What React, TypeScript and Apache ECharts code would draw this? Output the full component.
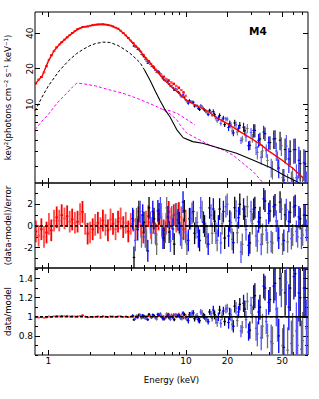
import React, { useEffect, useRef } from "react";
import * as echarts from "echarts";

const FONT = "DejaVu Sans, Liberation Sans, sans-serif";

// ---- axis ranges and ticks ----
const X_MIN = 0.8;
const X_MAX = 77;
const TOP_MIN = 2.15;
const TOP_MAX = 60.5;
const RES_MIN = -3.87;
const RES_MAX = 3.96;
const RAT_MIN = 0.6;
const RAT_MAX = 1.51;

const xMajorTicks = [1, 10, 20, 50];
const xMinorTicks = [0.9, 2, 3, 4, 5, 6, 7, 8, 9, 30, 40, 60, 70];
const xLabels = [1, 10, 20, 50];
const topMajorTicks = [10, 20, 40];
const topMinorTicks = [3, 4, 5, 6, 7, 8, 9];
const topLabels = [10, 20, 40];
const resMajorTicks = [-2, 0, 2];
const resMinorTicks = [-3, -1, 1, 3];
const resLabels = [-2, 0, 2];
const ratMajorTicks = [0.8, 1, 1.2, 1.4];
const ratMinorTicks = [0.6, 0.7, 0.9, 1.1, 1.3, 1.5];
const ratLabels = [0.8, 1, 1.2, 1.4];

const residRef = 0;
const ratioRef = 1;
const refSolidFrom = 10;
const blackSolidFrom = 5;

// ---- red spectrum (0.8-10 keV) ----
const redE = [0.81, 0.85, 0.89, 0.93, 0.97, 1.01, 1.05, 1.1, 1.15, 1.2,
  1.25, 1.31, 1.37, 1.43, 1.49, 1.56, 1.63, 1.7, 1.77, 1.85,
  1.93, 2.01, 2.1, 2.19, 2.29, 2.39, 2.49, 2.6, 2.71, 2.83,
  2.95, 3.08, 3.21, 3.35, 3.5, 3.65, 3.81, 3.97, 4.14, 4.32,
  4.51, 4.71, 4.91, 5.12, 5.34, 5.57, 5.81, 6.06, 6.32, 6.6,
  6.88, 7.18, 7.49, 7.81, 8.15, 8.5, 8.87, 9.25, 9.6, 9.95];
const redFlux = [15.0, 16.2, 17.0, 18.6, 21.0, 23.8, 26.0, 28.2, 30.4, 32.0,
  33.6, 35.3, 36.9, 38.6, 40.2, 41.8, 43.3, 44.3, 45.1, 45.3,
  45.6, 46.3, 46.8, 47.2, 47.5, 47.7, 47.6, 47.4, 47.0, 46.5,
  45.7, 44.6, 43.7, 42.0, 40.2, 38.3, 36.5, 34.6, 32.9, 31.2,
  29.6, 27.8, 26.1, 24.6, 23.3, 22.0, 20.8, 19.7, 18.8, 17.9,
  17.1, 16.4, 15.9, 15.3, 14.9, 14.3, 13.8, 13.2, 12.6, 11.8];
const redRelErr = [0.01, 0.01, 0.01, 0.01, 0.01, 0.01, 0.01, 0.01, 0.01, 0.01,
  0.01, 0.01, 0.01, 0.01, 0.01, 0.01, 0.008, 0.008, 0.008, 0.008,
  0.008, 0.008, 0.008, 0.008, 0.008, 0.008, 0.008, 0.008, 0.008, 0.008,
  0.008, 0.008, 0.008, 0.008, 0.008, 0.008, 0.008, 0.008, 0.012, 0.012,
  0.012, 0.012, 0.012, 0.012, 0.012, 0.012, 0.012, 0.012, 0.012, 0.012,
  0.022, 0.022, 0.022, 0.022, 0.022, 0.022, 0.022, 0.022, 0.022, 0.022];
const redResid = [-0.5, -0.9, -0.3, -1.0, -0.6, 0.2, -0.4, 0.5, 0.8, 0.5,
  1.0, 0.7, 0.9, 0.4, 0.6, 0.3, 0.4, 1.1, 1.3, 0.2,
  -0.7, -0.6, -0.3, 0.1, 0.3, -0.2, 0.5, 0.1, -0.4, 0.6,
  0.2, -0.3, 0.4, 0.7, -0.1, 0.3, -0.5, 0.2, 0.5, -0.3,
  0.8, 0.1, -0.6, 0.4, 0.9, -0.2, 0.3, -0.8, 0.6, 1.1,
  -0.4, 0.2, 1.3, 0.7, 1.0, 0.4, 1.2, 0.8, -0.3, 0.5];
const redRatio = [0.995, 0.992, 0.997, 0.99, 0.994, 1.002, 0.997, 1.004, 1.006, 1.004,
  1.008, 1.005, 1.007, 1.003, 1.004, 1.002, 1.003, 1.01, 1.015, 1.002,
  0.994, 0.995, 0.997, 1.001, 1.003, 0.998, 1.004, 1.001, 0.996, 1.005,
  1.002, 0.997, 1.003, 1.006, 0.999, 1.003, 0.995, 1.002, 1.005, 0.997,
  1.008, 1.001, 0.993, 1.004, 1.01, 0.997, 1.004, 0.99, 1.008, 1.015,
  0.994, 1.003, 1.02, 1.01, 1.016, 1.006, 1.02, 1.013, 0.995, 1.008];

// ---- blue spectrum (4-75 keV) ----
const blueE = [4.1, 4.28, 4.46, 4.65, 4.85, 5.06, 5.28, 5.51, 5.74, 5.99,
  6.25, 6.52, 6.8, 7.09, 7.39, 7.71, 8.04, 8.39, 8.75, 9.13, 9.52, 9.93,
  10.4, 10.8, 11.3, 11.8, 12.3, 12.8, 13.4, 13.9, 14.5, 15.2,
  15.8, 16.5, 17.2, 17.9, 18.7, 19.5,
  20.4, 21.2, 22.1, 23.1, 24.1, 25.1,
  26.2, 27.3, 28.5, 29.7,
  31.0, 32.3, 33.7, 35.2, 36.7, 38.3, 39.9,
  41.6, 43.4, 45.3, 47.2, 49.3,
  51.4, 53.6, 55.9, 58.3, 60.8,
  63.4, 66.1, 69.0, 71.9, 75.0];
const blueFlux = [33.3, 30.6, 29.2, 28.2, 26.4, 24.0, 22.3, 21.8, 21.0, 19.4,
  19.1, 18.2, 16.5, 15.8, 15.5, 14.2, 13.8, 13.6, 12.8, 11.8, 12.0, 10.9,
  10.2, 10.5, 10.4, 9.7, 9.22, 9.77, 9.14, 8.67, 8.17, 8.55,
  8.67, 7.61, 7.6, 6.88, 7.63, 7.51,
  6.35, 6.68, 5.72, 6.7, 6.25, 4.93,
  6.38, 5.29, 4.45, 5.77,
  6.0, 4.27, 4.94, 3.55, 5.81, 4.04, 4.72,
  2.92, 5.08, 4.02, 2.88, 4.45,
  2.28, 4.42, 3.44, 2.17, 4.12,
  2.38, 3.35, 1.69, 3.19, 2.07];
const blueRelErr = [0.015, 0.015, 0.015, 0.015, 0.015, 0.015, 0.015, 0.015, 0.015, 0.015,
  0.018, 0.018, 0.018, 0.018, 0.018, 0.018, 0.018, 0.018, 0.018, 0.018, 0.018, 0.018,
  0.03, 0.03, 0.03, 0.03, 0.03, 0.03, 0.03, 0.03, 0.03, 0.03,
  0.045, 0.045, 0.045, 0.045, 0.045, 0.045,
  0.065, 0.065, 0.065, 0.065, 0.065, 0.065,
  0.09, 0.09, 0.09, 0.09,
  0.13, 0.13, 0.13, 0.13, 0.13, 0.13, 0.13,
  0.18, 0.18, 0.18, 0.18, 0.18,
  0.24, 0.24, 0.24, 0.24, 0.24,
  0.3, 0.3, 0.3, 0.3, 0.3];
const blueResid = [0.67, -1.33, -0.33, 1.33, 1.0, -1.0, -2.3, 0.33, 1.33, -0.67,
  1.39, 1.67, -1.11, -0.56, 0.83, -1.39, -0.28, 1.11, 0.56, -0.83, 2.2, -0.56,
  -1.33, 0.67, 1.33, -0.17, -1.0, 1.67, 0.33, -0.67, -1.67, 1.0,
  1.56, -0.67, 0.0, -1.56, 1.33, 1.78,
  -0.92, 0.31, -1.54, 1.38, 0.77, -2.4,
  1.56, -0.33, -1.78, 1.33,
  1.54, -0.92, 0.38, -1.69, 2.5, -0.38, 1.15,
  -1.44, 1.78, 0.44, -1.11, 1.56,
  -1.33, 1.5, 0.42, -1.17, 1.75,
  -0.5, 0.83, -1.13, 1.0, -0.4];
const blueRatio = [1.01, 0.98, 0.995, 1.02, 1.015, 0.985, 0.97, 1.005, 1.02, 0.99,
  1.025, 1.03, 0.98, 0.99, 1.015, 0.975, 0.995, 1.02, 1.01, 0.985, 1.04, 0.99,
  0.96, 1.02, 1.04, 0.995, 0.97, 1.05, 1.01, 0.98, 0.95, 1.03,
  1.07, 0.97, 1.0, 0.93, 1.06, 1.08,
  0.94, 1.02, 0.9, 1.09, 1.05, 0.85,
  1.14, 0.97, 0.84, 1.12,
  1.2, 0.88, 1.05, 0.78, 1.32, 0.95, 1.15,
  0.74, 1.32, 1.08, 0.8, 1.28,
  0.68, 1.36, 1.1, 0.72, 1.42,
  0.85, 1.25, 0.66, 1.3, 0.88];

// ---- black spectrum (4-75 keV) ----
const blackE = [4.19, 4.37, 4.55, 4.75, 4.95, 5.17, 5.39, 5.62, 5.86, 6.12,
  6.38, 6.66, 6.94, 7.24, 7.55, 7.87, 8.21, 8.57, 8.94, 9.32, 9.72, 10.15,
  10.6, 11.05, 11.55, 12.05, 12.55, 13.1, 13.65, 14.2, 14.85, 15.5,
  16.15, 16.85, 17.55, 18.3, 19.1, 19.95,
  20.8, 21.65, 22.6, 23.6, 24.6, 25.65,
  26.75, 27.9, 29.1, 30.35,
  31.65, 33.0, 34.45, 35.95, 37.5, 39.1, 40.75,
  42.5, 44.35, 46.25, 48.25, 50.35,
  52.5, 54.75, 57.1, 59.55, 62.1,
  64.75, 67.55, 70.45, 73.4];
const blackFlux = [31.1, 30.5, 29.0, 26.4, 25.3, 23.2, 22.9, 20.9, 20.3, 18.6,
  18.5, 17.2, 16.1, 16.1, 14.8, 14.4, 13.2, 13.3, 12.4, 11.5, 11.5, 10.5,
  10.7, 10.5, 9.67, 9.72, 9.02, 9.54, 8.95, 8.46, 8.87, 8.04,
  8.13, 7.26, 8.03, 7.37, 6.72, 7.47,
  6.85, 5.93, 6.94, 5.81, 6.63, 5.07,
  5.96, 6.23, 4.49, 5.17,
  6.0, 3.91, 5.08, 4.02, 5.62, 3.34, 4.74,
  2.81, 5.1, 3.37, 4.96, 2.39,
  4.13, 2.07, 3.99, 2.37, 4.13,
  1.92, 3.14, 1.88, 3.12];
const blackRelErr = [0.015, 0.015, 0.015, 0.015, 0.015, 0.015, 0.015, 0.015, 0.015, 0.015,
  0.018, 0.018, 0.018, 0.018, 0.018, 0.018, 0.018, 0.018, 0.018, 0.018, 0.018, 0.018,
  0.03, 0.03, 0.03, 0.03, 0.03, 0.03, 0.03, 0.03, 0.03, 0.03,
  0.045, 0.045, 0.045, 0.045, 0.045, 0.045,
  0.065, 0.065, 0.065, 0.065, 0.065, 0.065,
  0.09, 0.09, 0.09, 0.09,
  0.13, 0.13, 0.13, 0.13, 0.13, 0.13, 0.13,
  0.18, 0.18, 0.18, 0.18, 0.18,
  0.24, 0.24, 0.24, 0.24, 0.24,
  0.3, 0.3, 0.3, 0.3];
const blackResid = [-2.9, 0.67, 1.33, -1.0, 0.33, -1.33, 1.67, -0.67, 0.67, -1.67,
  1.11, 0.0, -1.11, 1.67, -0.56, 0.83, -1.67, 1.11, 0.28, -1.11, 1.39, -1.67,
  0.67, 1.17, -0.67, 0.33, -1.33, 1.33, 0.0, -1.0, 1.67, -0.67,
  0.44, -1.33, 1.56, 0.22, -1.11, 2.0,
  0.46, -1.23, 1.69, -0.62, 2.0, -1.69,
  0.89, 1.78, -1.56, 0.22,
  1.69, -1.38, 0.77, -0.77, 2.3, -1.54, 1.38,
  -1.56, 1.94, -0.44, 2.2, -1.67,
  1.04, -1.46, 1.25, -0.83, 1.88,
  -1.0, 0.67, -0.83, 1.0];
const blackRatio = [0.97, 1.01, 1.02, 0.985, 1.005, 0.98, 1.025, 0.99, 1.01, 0.975,
  1.02, 1.0, 0.98, 1.03, 0.99, 1.015, 0.97, 1.02, 1.005, 0.98, 1.025, 0.97,
  1.02, 1.035, 0.98, 1.01, 0.96, 1.04, 1.0, 0.97, 1.05, 0.98,
  1.02, 0.94, 1.07, 1.01, 0.95, 1.09,
  1.03, 0.92, 1.11, 0.96, 1.13, 0.89,
  1.08, 1.16, 0.86, 1.02,
  1.22, 0.82, 1.1, 0.9, 1.3, 0.8, 1.18,
  0.72, 1.35, 0.92, 1.4, 0.7,
  1.25, 0.65, 1.3, 0.8, 1.45,
  0.7, 1.2, 0.75, 1.3];

// ---- model curves ----
const totalModelE = [0.8, 0.9, 1.0, 1.1, 1.2, 1.4, 1.6, 1.8, 2.0, 2.2,
  2.5, 2.8, 3.2, 3.6, 4.0, 4.5, 5.0, 5.5, 6.0, 7.0,
  8.0, 9.0, 10, 12, 14, 17, 20, 25, 30, 35,
  40, 50, 60, 71];
const totalModel = [14.8, 17.3, 23.2, 28.4, 32.0, 37.8, 42.5, 45.2, 46.2, 47.2,
  47.6, 46.6, 43.8, 39.0, 34.2, 29.7, 25.3, 22.4, 19.5, 16.0,
  13.8, 12.2, 10.9, 9.7, 8.9, 7.6, 6.85, 5.8, 5.1, 4.55,
  4.0, 3.35, 2.85, 2.37];
const compBlackE = [0.8, 0.9, 1.0, 1.2, 1.4, 1.6, 1.8, 2.0, 2.2, 2.5,
  2.8, 3.2, 3.6, 3.92, 4.3, 4.64, 5.0, 5.48, 6.0, 6.49,
  7.0, 7.66, 8.56, 9.55, 11.2, 13.2, 17.6, 23.3, 30.6, 40.5,
  53.6, 63.2, 70];
const compBlack = [8.8, 11.5, 14.3, 19.2, 23.4, 26.8, 29.3, 31.3, 32.7, 33.6,
  33.4, 31.5, 29.0, 27.0, 24.5, 22.5, 19.5, 16.0, 12.8, 10.7,
  9.1, 7.8, 6.1, 5.2, 4.82, 4.67, 4.24, 3.84, 3.37, 2.93,
  2.44, 2.22, 2.05];
const compMagentaE = [0.8, 0.9, 1.0, 1.1, 1.2, 1.37, 1.5, 1.61, 1.8, 2.2,
  2.81, 3.4, 3.92, 4.6, 5.48, 6.2, 6.8, 7.66, 8.56, 9.06,
  10.1, 11.9, 14.9, 18.6, 22.0, 25.9, 30.8, 36.4, 42];
const compMagenta = [6.1, 7.2, 8.2, 9.5, 10.7, 12.5, 14.0, 15.1, 14.9, 14.3,
  13.2, 12.5, 11.8, 11.0, 10.1, 9.5, 9.0, 8.3, 7.4, 6.7,
  5.7, 5.15, 4.5, 4.1, 3.7, 3.16, 2.68, 2.15, 1.7];
const compMagenta2E = [6.8, 7.66, 8.56, 10.0, 11.6];
const compMagenta2 = [9.0, 8.8, 8.4, 7.5, 6.7];

// ---- helpers ----
function binEdges(E: number[]): [number, number][] {
  return E.map((e, i) => {
    const lo = i > 0 ? Math.sqrt(E[i - 1] * e) : e * Math.sqrt(e / E[1]);
    const hi = i < E.length - 1 ? Math.sqrt(E[i + 1] * e) : e * Math.sqrt(e / E[i - 1]);
    return [lo, hi];
  });
}

function fluxRows(E: number[], v: number[], rel: number[]) {
  const ed = binEdges(E);
  return E.map((e, i) => [e, v[i], v[i] * (1 - rel[i]), v[i] * (1 + rel[i]), ed[i][0], ed[i][1]]);
}
function residRows(E: number[], r: number[]) {
  const ed = binEdges(E);
  return E.map((e, i) => [e, r[i], r[i] - 1, r[i] + 1, ed[i][0], ed[i][1]]);
}
function ratioRows(E: number[], q: number[], rel: number[]) {
  const ed = binEdges(E);
  return E.map((e, i) => [e, q[i], q[i] - rel[i], q[i] + rel[i], ed[i][0], ed[i][1]]);
}
function pairs(E: number[], v: number[]) {
  return E.map((e, i) => [e, v[i]]);
}

function errSeries(data: number[][], axis: number, colors: string[], lw: number) {
  return {
    type: "custom",
    xAxisIndex: axis,
    yAxisIndex: axis,
    data,
    clip: true,
    silent: true,
    encode: { x: 0, y: 1 },
    renderItem: (params: any, api: any) => {
      const cs = params.coordSys;
      const e = api.value(0), v = api.value(1), lo = api.value(2), hi = api.value(3);
      const el = api.value(4), eh = api.value(5);
      const c = api.coord([e, v]);
      const a = api.coord([e, lo]);
      const b = api.coord([e, hi]);
      const l = api.coord([el, v]);
      const r = api.coord([eh, v]);
      const y0 = cs.y, y1 = cs.y + cs.height, x0 = cs.x, x1 = cs.x + cs.width;
      const cy = (t: number) => Math.max(y0, Math.min(y1, t));
      const cx = (t: number) => Math.max(x0, Math.min(x1, t));
      const col = colors[params.dataIndex % colors.length];
      const ch: any[] = [];
      const ya = cy(a[1]), yb = cy(b[1]);
      if (ya !== yb) {
        ch.push({ type: "line", shape: { x1: c[0], y1: ya, x2: c[0], y2: yb }, style: { stroke: col, lineWidth: lw } });
      }
      if (c[1] >= y0 && c[1] <= y1) {
        ch.push({ type: "line", shape: { x1: cx(l[0]), y1: c[1], x2: cx(r[0]), y2: c[1] }, style: { stroke: col, lineWidth: lw } });
      }
      return { type: "group", children: ch };
    },
  };
}

function lineSeries(data: number[][], axis: number, color: string, width: number, dashed: boolean) {
  return {
    type: "line",
    xAxisIndex: axis,
    yAxisIndex: axis,
    data,
    showSymbol: false,
    symbol: "none",
    silent: true,
    clip: true,
    lineStyle: { color, width, type: dashed ? [3, 2] : "solid" },
  };
}

const fmt = (v: number) => String(Math.round(v * 100) / 100);
const tickLine = { color: "#000", width: 1 };

function xAxesFor(gridIndex: number, withLabels: boolean) {
  const base: any = {
    type: "log",
    gridIndex,
    min: X_MIN,
    max: X_MAX,
    axisLine: { show: false, onZero: false },
    splitLine: { show: false },
    minorTick: { show: false },
    minorSplitLine: { show: false },
  };
  const major = { show: true, inside: true, length: 5, lineStyle: tickLine, customValues: xMajorTicks };
  const minor = { show: true, inside: true, length: 3, lineStyle: tickLine, customValues: xMinorTicks };
  const label = withLabels
    ? { show: true, customValues: xLabels, fontSize: 9, fontFamily: FONT, color: "#000", margin: 1, formatter: fmt }
    : { show: false };
  return [
    {
      ...base, position: "bottom", axisTick: major, axisLabel: label,
      name: withLabels ? "Energy (keV)" : "",
      nameLocation: "middle", nameGap: 20, nameMoveOverlap: false,
      nameTextStyle: { fontFamily: FONT, fontSize: 8.6, color: "#000" },
    },
    { ...base, position: "bottom", axisTick: minor, axisLabel: { show: false } },
    { ...base, position: "top", axisTick: major, axisLabel: { show: false } },
    { ...base, position: "top", axisTick: minor, axisLabel: { show: false } },
  ];
}

function yAxesFor(gridIndex: number, type: string, min: number, max: number,
  majors: number[], minors: number[], labels: number[], name: string, rotate: number) {
  const base: any = {
    type,
    gridIndex,
    min,
    max,
    axisLine: { show: false, onZero: false },
    splitLine: { show: false },
    minorTick: { show: false },
    minorSplitLine: { show: false },
  };
  const major = { show: true, inside: true, length: 5, lineStyle: tickLine, customValues: majors };
  const minor = { show: true, inside: true, length: 3, lineStyle: tickLine, customValues: minors };
  return [
    {
      ...base, position: "left", axisTick: major,
      axisLabel: { show: true, customValues: labels, fontSize: 9, fontFamily: FONT, color: "#000", margin: rotate ? 1 : 2, rotate, formatter: fmt },
      name, nameLocation: "middle", nameGap: 23, nameRotate: 90, nameMoveOverlap: false,
      nameTextStyle: { fontFamily: FONT, fontSize: 8.6, color: "#000" },
    },
    { ...base, position: "left", axisTick: minor, axisLabel: { show: false } },
    { ...base, position: "right", axisTick: major, axisLabel: { show: false } },
    { ...base, position: "right", axisTick: minor, axisLabel: { show: false } },
  ];
}

function buildOption() {
  const gridBase = { left: 35, width: 273, show: true, borderColor: "#000", borderWidth: 1, backgroundColor: "transparent", containLabel: false, outerBoundsMode: "none" };
  const grids = [
    { ...gridBase, top: 12, height: 171 },
    { ...gridBase, top: 183, height: 85 },
    { ...gridBase, top: 268, height: 87 },
  ];
  const xAxis = [...xAxesFor(0, false), ...xAxesFor(1, false), ...xAxesFor(2, true)];
  const yAxis = [
    ...yAxesFor(0, "log", TOP_MIN, TOP_MAX, topMajorTicks, topMinorTicks, topLabels, "kev\u00B2(photons cm\u207B\u00B2 s\u207B\u00B9 keV\u207B\u00B9)", 90),
    ...yAxesFor(1, "value", RES_MIN, RES_MAX, resMajorTicks, resMinorTicks, resLabels, "(data-model)/error", 0),
    ...yAxesFor(2, "value", RAT_MIN, RAT_MAX, ratMajorTicks, ratMinorTicks, ratLabels, "data/model", 0),
  ];

  const RED = ["#ff0000", "#ff5050"];
  const BLUE = ["#0000ff", "#5050ff"];
  const BLACK = ["#000000", "#707070"];

  const blackModel = pairs(compBlackE, compBlack);
  const refLine = (y: number) => [[X_MIN, y], [X_MAX, y]];
  const refSolid = (y: number) => [[refSolidFrom, y], [X_MAX, y]];

  const series: any[] = [
    // top panel
    errSeries(fluxRows(blackE, blackFlux, blackRelErr), 0, BLACK, 1.1),
    errSeries(fluxRows(blueE, blueFlux, blueRelErr), 0, BLUE, 1.1),
    errSeries(fluxRows(redE, redFlux, redRelErr), 0, RED, 2),
    lineSeries(pairs(compMagentaE, compMagenta), 0, "#ff00ff", 1, true),
    lineSeries(pairs(compMagenta2E, compMagenta2), 0, "#ff00ff", 1, true),
    lineSeries(blackModel.filter((p) => p[0] <= blackSolidFrom), 0, "#000000", 1, true),
    lineSeries(blackModel.filter((p) => p[0] >= blackSolidFrom), 0, "#000000", 1.1, false),
    lineSeries(pairs(totalModelE, totalModel), 0, "#ff0000", 1.4, false),
    // residual panel
    errSeries(residRows(redE, redResid), 4, RED, 1.8),
    errSeries(residRows(blackE, blackResid), 4, BLACK, 1.3),
    errSeries(residRows(blueE, blueResid), 4, BLUE, 1.3),
    lineSeries(refLine(residRef), 4, "#000000", 1.3, true),
    lineSeries(refSolid(residRef), 4, "#000000", 1.3, false),
    // ratio panel
    errSeries(ratioRows(redE, redRatio, redRelErr), 8, RED, 1.5),
    errSeries(ratioRows(blackE, blackRatio, blackRelErr), 8, BLACK, 1.3),
    errSeries(ratioRows(blueE, blueRatio, blueRelErr), 8, BLUE, 1.3),
    lineSeries(refLine(ratioRef), 8, "#000000", 1.3, true),
    lineSeries(refSolid(ratioRef), 8, "#000000", 1.3, false),
  ];

  return {
    animation: false,
    backgroundColor: "#ffffff",
    textStyle: { fontFamily: FONT },
    grid: grids,
    xAxis,
    yAxis,
    series,
    graphic: [
      {
        type: "text",
        left: 249,
        top: 25,
        silent: true,
        style: { text: "M4", font: "bold 10.5px DejaVu Sans", fill: "#000" },
      },
    ],
  };
}

export default function App() {
  const ref = useRef<HTMLDivElement>(null);
  useEffect(() => {
    document.body.style.margin = "0";
    const chart = echarts.init(ref.current!, null, { renderer: "svg" });
    chart.setOption(buildOption() as any);
    return () => chart.dispose();
  }, []);
  return <div ref={ref} style={{ width: 319, height: 399 }} />;
}
